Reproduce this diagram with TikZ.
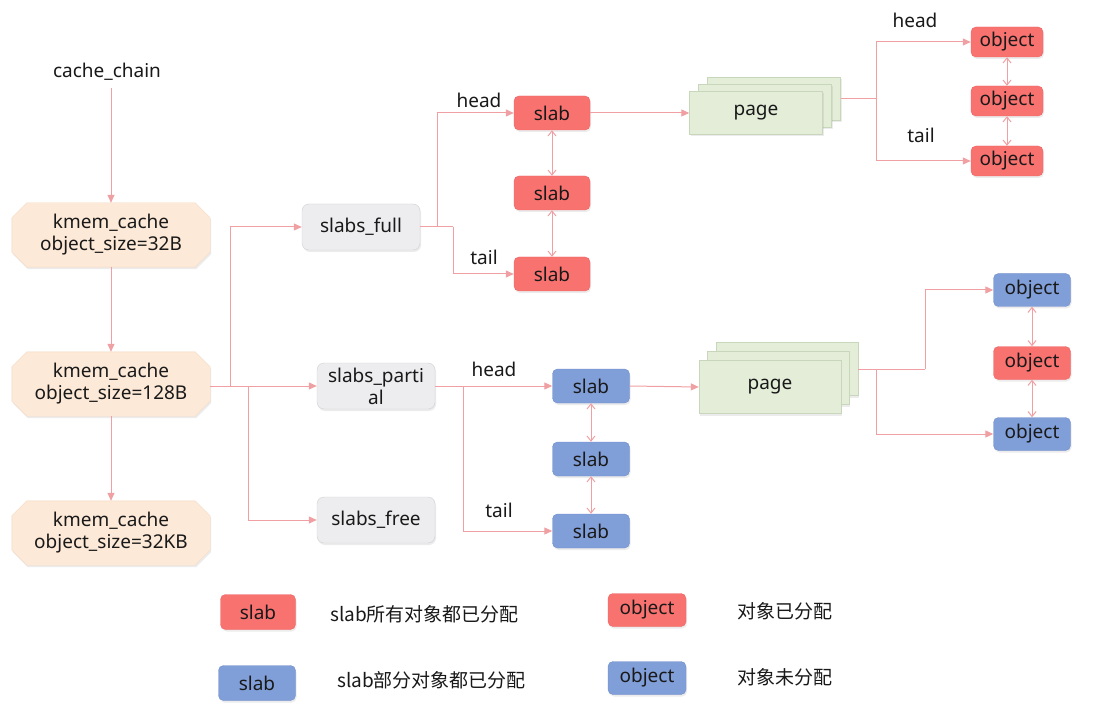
\documentclass[tikz,border=0pt]{standalone}
\usepackage{fontspec}
\setmainfont{Noto Sans}
\newfontfamily\cjk{Noto Sans CJK SC}
\usetikzlibrary{arrows.meta,shadows}
\definecolor{arr}{RGB}{240,160,162}
\definecolor{redf}{RGB}{248,114,112}
\definecolor{redd}{RGB}{236,100,100}
\definecolor{bluef}{RGB}{128,158,216}
\definecolor{blued}{RGB}{112,142,204}
\definecolor{peach}{RGB}{253,233,215}
\definecolor{peachd}{RGB}{244,216,194}
\definecolor{grayf}{RGB}{237,237,239}
\definecolor{grayd}{RGB}{208,208,212}
\definecolor{greenf}{RGB}{227,237,215}
\definecolor{greend}{RGB}{200,214,188}
\definecolor{txt}{RGB}{25,25,25}
\newcommand{\octo}[1]{%
  \path[fill=peach, draw=peachd, drop shadow={opacity=0.15,shadow xshift=1pt,shadow yshift=-2pt}]
    ([xshift=15pt]#1.north west) -- ([xshift=-15pt]#1.north east)
    -- ([yshift=-15pt]#1.north east) -- ([yshift=15pt]#1.south east)
    -- ([xshift=-15pt]#1.south east) -- ([xshift=15pt]#1.south west)
    -- ([yshift=15pt]#1.south west) -- ([yshift=-15pt]#1.north west) -- cycle;}
\begin{document}
\begin{tikzpicture}[x=1pt,y=-1pt,
  font=\fontsize{19}{22}\selectfont, text=txt,
  shad/.style={drop shadow={opacity=0.15,shadow xshift=1pt,shadow yshift=-2pt}},
  kmem/.style={minimum width=198pt, minimum height=64pt, align=center, inner sep=0pt},
  listbox/.style={rounded corners=7pt, fill=grayf, draw=grayd, minimum width=118pt, minimum height=46pt,
    align=center, inner sep=0pt, shad},
  rslab/.style={rounded corners=5pt, fill=redf, draw=redd, minimum width=76pt, minimum height=34pt, inner sep=0pt, shad},
  bslab/.style={rounded corners=5pt, fill=bluef, draw=blued, minimum width=77pt, minimum height=34pt, inner sep=0pt, shad},
  robj/.style={rounded corners=5pt, fill=redf, draw=redd, minimum width=72pt, minimum height=30pt, inner sep=0pt, shad},
  bobj/.style={rounded corners=5pt, fill=bluef, draw=blued, minimum width=77pt, minimum height=33pt, inner sep=0pt, shad},
  pagebox/.style={fill=greenf, draw=greend, inner sep=0pt, shad},
  line/.style={draw=arr, line width=1pt},
  conn/.style={line, -{Triangle[length=8pt,width=7pt]}},
  dconn/.style={line, {Straight Barb[length=5pt,width=8pt]}-{Straight Barb[length=5pt,width=8pt]}},
  lbl/.style={inner sep=0pt}
]
\useasboundingbox (0,0) rectangle (1095,719);
\fill[white] (0,0) rectangle (1095,719);

% left column
\node[lbl] (cc) at (107,72) {cache\_chain};
\coordinate (ccb) at (111,88);
\path (111,235) node[kmem] (k1) {};
\path (111,384) node[kmem] (k2) {};
\path (111,533) node[kmem] (k3) {};
\octo{k1}\octo{k2}\octo{k3}
\node[align=center, inner sep=0pt] at (k1) {kmem\_cache\\object\_size=32B};
\node[align=center, inner sep=0pt] at (k2) {kmem\_cache\\object\_size=128B};
\node[align=center, inner sep=0pt] at (k3) {kmem\_cache\\object\_size=32KB};

\draw[conn] (ccb) -- (k1.north);
\draw[conn] (k1.south) -- (k2.north);
\draw[conn] (k2.south) -- (k3.north);

% lists
\node[listbox] (sf) at (361,227) {slabs\_full};
\node[listbox] (sp) at (376,386) {\fontsize{19}{20}\selectfont slabs\_parti\\al};
\node[listbox] (sfr) at (376,520) {slabs\_free};

\coordinate (j1) at (230,386);
\coordinate (j2) at (248,386);
\draw[line] (k2.east |- j1) -- (j2);
\draw[conn] (j1) |- (sf.west);
\draw[conn] (j2) -- (sp.west);
\draw[conn] (j2) |- (sfr.west);

% full slabs
\node[rslab] (s1) at (552,113) {slab};
\node[rslab] (s2) at (552,193) {slab};
\node[rslab] (s3) at (552,274) {slab};
\coordinate (h1) at (437,227);
\coordinate (h2) at (453,227);
\draw[line] (sf.east) -- (h2);
\draw[conn] (h1) |- (s1.west);
\draw[conn] (h2) |- (s3.west);
\node[lbl] at (479,100) {head};
\node[lbl] at (484,257) {tail};
\draw[dconn] (s1.south) -- (s2.north);
\draw[dconn] (s2.south) -- (s3.north);

% page stack top
\node[pagebox, minimum width=133pt, minimum height=43pt] (pa3) at (774,99) {};
\node[pagebox, minimum width=133pt, minimum height=43pt] (pa2) at (765,106) {};
\node[pagebox, minimum width=133pt, minimum height=43pt] (pa) at (756,113) {page};
\draw[conn] (s1.east) -- (pa.west);

% objects top
\node[robj] (o1) at (1007,42) {object};
\node[robj] (o2) at (1007,101) {object};
\node[robj] (o3) at (1007,161) {object};
\coordinate (oj) at (876,99);
\draw[line] (pa3.east) -- (oj);
\draw[conn] (oj) |- (o1.west);
\draw[conn] (oj) |- (o3.west);
\node[lbl] at (915,20) {head};
\node[lbl] at (921,135) {tail};
\draw[dconn] (o1.south) -- (o2.north);
\draw[dconn] (o2.south) -- (o3.north);

% partial slabs
\node[bslab] (b1) at (591,386) {slab};
\node[bslab] (b2) at (591,459) {slab};
\node[bslab] (b3) at (591,531) {slab};
\coordinate (bj) at (463,386);
\draw[conn] (sp.east) -- (b1.west);
\draw[conn] (bj) |- (b3.west);
\node[lbl] at (494,369) {head};
\node[lbl] at (499,510) {tail};
\draw[dconn] (b1.south) -- (b2.north);
\draw[dconn] (b2.south) -- (b3.north);

% page stack middle
\node[pagebox, minimum width=142pt, minimum height=53pt] (pb3) at (787,369) {};
\node[pagebox, minimum width=142pt, minimum height=53pt] (pb2) at (778,378) {};
\node[pagebox, minimum width=142pt, minimum height=53pt] (pb) at (770,387) {page};
\draw[conn] (b1.east) -- (pb.west);

% objects middle
\node[bobj] (p1) at (1032,290) {object};
\node[robj, minimum width=77pt, minimum height=33pt] (p2) at (1032,363) {object};
\node[bobj] (p3) at (1032,434) {object};
\coordinate (mja) at (876,369);
\coordinate (mjb) at (925,369);
\draw[line] (pb3.east) -- (mjb);
\draw[conn] (mjb) |- (p1.west);
\draw[conn] (mja) |- (p3.west);
\draw[dconn] (p1.south) -- (p2.north);
\draw[dconn] (p2.south) -- (p3.north);

% legend
\node[rslab, minimum width=75pt, minimum height=35pt] (lg1) at (258,612) {slab};
\node[lbl, anchor=west] (lt1) at (330,614) {\cjk\fontsize{19}{22}\selectfont slab所有对象都已分配};
\node[robj, minimum width=78pt, minimum height=33pt] (lg2) at (647,610) {object};
\node[lbl, anchor=west] (lt2) at (737,611) {\cjk\fontsize{19}{22}\selectfont 对象已分配};
\node[bslab, minimum width=77pt, minimum height=35pt] (lg3) at (257,683) {slab};
\node[lbl, anchor=west] (lt3) at (337,680) {\cjk\fontsize{19}{22}\selectfont slab部分对象都已分配};
\node[bobj, minimum width=78pt, minimum height=33pt] (lg4) at (647,678) {object};
\node[lbl, anchor=west] (lt4) at (737,677) {\cjk\fontsize{19}{22}\selectfont 对象未分配};
\end{tikzpicture}
\end{document}
